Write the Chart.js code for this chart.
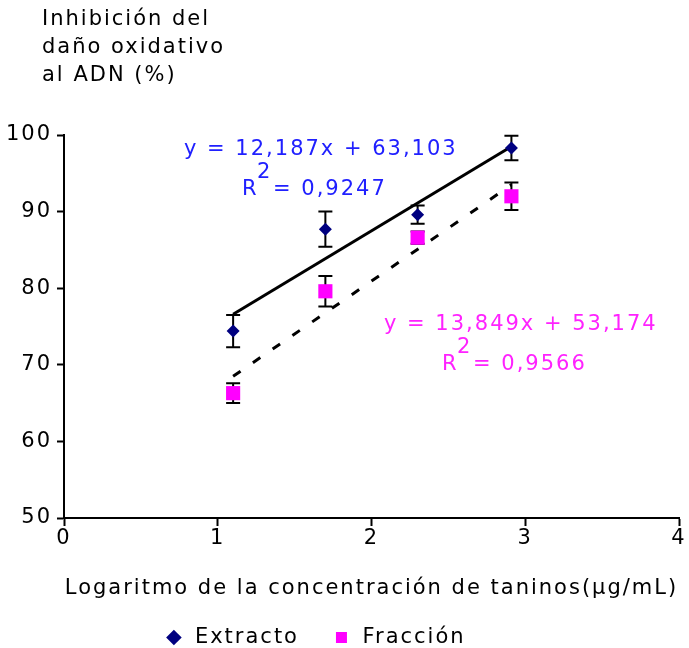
<!DOCTYPE html>
<html>
<head>
<meta charset="utf-8">
<script src="https://cdn.jsdelivr.net/npm/chart.js@4.4.1/dist/chart.umd.min.js"></script>
<style>
  html, body { margin: 0; padding: 0; background: #fff; }
  #wrap { width: 689px; height: 648px; }
</style>
</head>
<body>
<div id="wrap"><canvas id="grafico"></canvas></div>
<script>
// valores
const xConc = [1.1, 1.7, 2.3, 2.91];
const yExtracto = [74.4, 87.7, 89.6, 98.3];
const errExtracto = [2.1, 2.3, 1.2, 1.6];
const yFraccion = [66.3, 79.6, 86.6, 92.0];
const errFraccion = [1.3, 2.0, 0.8, 1.8];

// extremos de las lineas de tendencia
const xTend = [1.1, 2.91];
const tendExtracto = [76.6, 98.5];
const tendFraccion = [68.5, 93.5];

const xTicks = [0, 1, 2, 3, 4];
const yTicks = [50, 60, 70, 80, 90, 100];

const tituloY = ['Inhibición del', 'daño oxidativo', 'al ADN (%)'];
const tituloX = 'Logaritmo de la concentración de taninos(µg/mL)';
const ecExtracto = ['y = 12,187x + 63,103', '0,9247'];
const ecFraccion = ['y = 13,849x + 53,174', '0,9566'];

const fuente = '"DejaVu Sans", Verdana, sans-serif';
const tam = 21;
const sep = '2px';
Chart.defaults.font.family = fuente;
Chart.defaults.font.size = tam;
Chart.defaults.color = '#000';

const pts = (xs, ys) => xs.map((x, i) => ({ x: x, y: ys[i] }));

const espaciado = {
  id: 'espaciado',
  beforeLayout(chart) { chart.ctx.letterSpacing = sep; },
  afterUpdate(chart) {
    // la leyenda del original esta algo a la izquierda del centro
    const lg = chart.legend;
    if (lg) { lg.left -= 25; lg.right -= 25; }
  },
  beforeDraw(chart) { chart.ctx.letterSpacing = sep; }
};

const extras = {
  id: 'extras',
  beforeDatasetsDraw(chart) {
    const ctx = chart.ctx;
    const sx = chart.scales.x, sy = chart.scales.y;
    ctx.save();
    ctx.strokeStyle = '#000';
    ctx.lineWidth = 2;
    [[yExtracto, errExtracto], [yFraccion, errFraccion]].forEach(([ys, es]) => {
      xConc.forEach((x, i) => {
        const px = sx.getPixelForValue(x);
        const top = sy.getPixelForValue(ys[i] + es[i]);
        const bot = sy.getPixelForValue(ys[i] - es[i]);
        ctx.beginPath();
        ctx.moveTo(px, top); ctx.lineTo(px, bot);
        ctx.moveTo(px - 7, top); ctx.lineTo(px + 7, top);
        ctx.moveTo(px - 7, bot); ctx.lineTo(px + 7, bot);
        ctx.stroke();
      });
    });
    ctx.restore();
  },
  afterDraw(chart) {
    const ctx = chart.ctx;
    ctx.save();
    ctx.letterSpacing = sep;
    ctx.textBaseline = 'middle';
    ctx.textAlign = 'left';
    ctx.font = tam + 'px ' + fuente;
    ctx.fillStyle = '#000';
    tituloY.forEach((t, i) => ctx.fillText(t, 42, 20 + i * 28));

    const ecuacion = (lineas, color, x, y) => {
      ctx.fillStyle = color;
      ctx.fillText(lineas[0], x, y);
      ctx.fillText('R', x + 58, y + 40);
      ctx.fillText('2', x + 73, y + 23);
      ctx.fillText('= ' + lineas[1], x + 89, y + 40);
    };
    ecuacion(ecExtracto, '#2020ff', 184, 150);
    ecuacion(ecFraccion, '#ff22ff', 384, 325);
    ctx.restore();
  }
};

new Chart(document.getElementById('grafico'), {
  type: 'scatter',
  data: {
    datasets: [
      {
        label: 'Extracto',
        data: pts(xConc, yExtracto),
        pointStyle: 'rectRot',
        pointRadius: 6.5,
        pointHoverRadius: 6.5,
        backgroundColor: '#000080',
        borderColor: '#000080',
        borderWidth: 0,
        order: 1
      },
      {
        label: 'Fracción',
        data: pts(xConc, yFraccion),
        pointStyle: 'rect',
        pointRadius: 10,
        pointHoverRadius: 10,
        backgroundColor: '#ff00ff',
        borderColor: '#ff00ff',
        borderWidth: 0,
        order: 2
      },
      {
        label: 'tendExtracto',
        data: pts(xTend, tendExtracto),
        showLine: true,
        pointRadius: 0,
        borderColor: '#000',
        borderWidth: 3,
        order: 3
      },
      {
        label: 'tendFraccion',
        data: pts(xTend, tendFraccion),
        showLine: true,
        pointRadius: 0,
        borderColor: '#000',
        borderWidth: 3,
        borderDash: [9, 15],
        order: 4
      }
    ]
  },
  options: {
    responsive: true,
    maintainAspectRatio: false,
    animation: false,
    layout: { padding: { top: 135, right: 10, left: 0, bottom: -10 } },
    plugins: {
      tooltip: { enabled: false },
      legend: {
        position: 'bottom',
        labels: {
          usePointStyle: true,
          boxHeight: 11,
          padding: 32,
          font: { size: tam },
          filter: item => item.text === 'Extracto' || item.text === 'Fracción'
        }
      }
    },
    scales: {
      x: {
        type: 'linear',
        min: 0,
        max: 4,
        afterBuildTicks: s => { s.ticks = xTicks.map(v => ({ value: v })); },
        afterFit: s => { s.height = 77; },
        grid: { drawOnChartArea: false, drawTicks: true, tickLength: 8, tickColor: '#000', tickWidth: 2 },
        border: { color: '#000', width: 2 },
        ticks: { padding: 0, color: '#000' },
        title: { display: true, text: tituloX, color: '#000', font: { size: tam }, padding: { top: 12, bottom: -6 } }
      },
      y: {
        type: 'linear',
        min: 50,
        max: 100,
        afterBuildTicks: s => { s.ticks = yTicks.map(v => ({ value: v })); },
        afterFit: s => { s.width = 64; },
        grid: { drawOnChartArea: false, drawTicks: true, tickLength: 7, tickColor: '#000', tickWidth: 2 },
        border: { color: '#000', width: 2 },
        ticks: { padding: 5, color: '#000' }
      }
    }
  },
  plugins: [espaciado, extras]
});
</script>
</body>
</html>
